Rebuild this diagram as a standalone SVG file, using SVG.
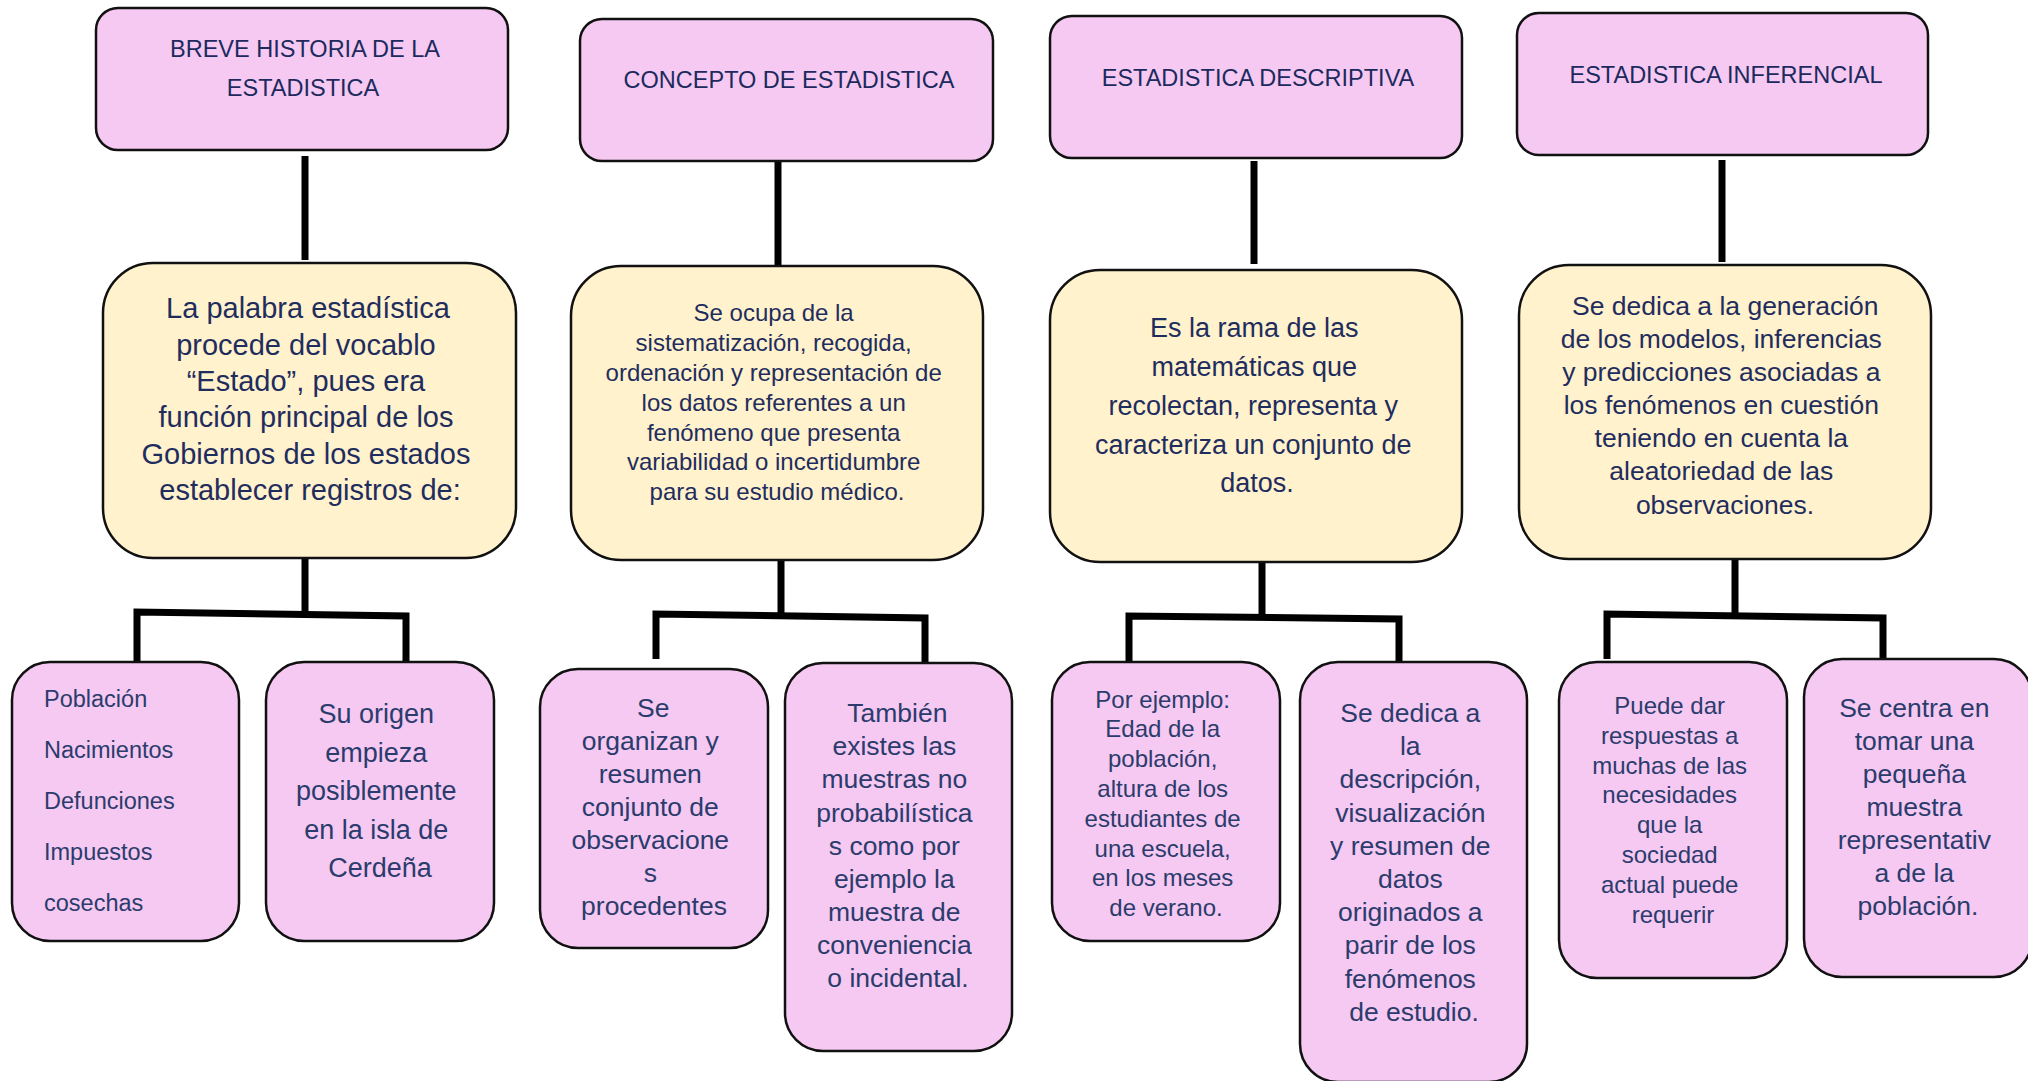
<svg xmlns="http://www.w3.org/2000/svg" width="2028" height="1081" viewBox="0 0 2028 1081">
<style>
.hd{fill:#f5c9f2;stroke:#111;stroke-width:2.5}
.yl{fill:#fff2cc;stroke:#111;stroke-width:2.5}
.pk{fill:#f5c9f2;stroke:#111;stroke-width:2.5}
.ln{fill:none;stroke:#000;stroke-width:7;stroke-linejoin:miter;stroke-linecap:butt}
text{font-family:"Liberation Sans",Arial,sans-serif;text-anchor:middle}
.ht{font-size:23.5px;fill:#1c2a5e}
.yt{fill:#1f2d5e}
.bt{fill:#2b3c6c}
</style>
<rect width="2028" height="1081" fill="#fff"/>

<g id="connectors">
<path class="ln" d="M305 156V260"/>
<path class="ln" d="M778 161V266"/>
<path class="ln" d="M1254 161V264"/>
<path class="ln" d="M1722 160V262"/>
<path class="ln" d="M305 557V614"/>
<path class="ln" d="M137 663V612L406 616V663"/>
<path class="ln" d="M781 560V616"/>
<path class="ln" d="M656 659V614L925 618V662"/>
<path class="ln" d="M1262 562V618"/>
<path class="ln" d="M1129 662V616L1399 619V662"/>
<path class="ln" d="M1735 558V617"/>
<path class="ln" d="M1607 659V614L1883 618V658"/>
</g>

<g id="h1"><rect class="hd" x="96" y="8" width="412" height="142" rx="22"/>
<text class="ht" x="305" y="56.5">BREVE HISTORIA DE LA</text>
<text class="ht" x="303" y="96">ESTADISTICA</text></g>
<g id="h2"><rect class="hd" x="580" y="19" width="413" height="142" rx="22"/>
<text class="ht" x="789" y="87.5">CONCEPTO DE ESTADISTICA</text></g>
<g id="h3"><rect class="hd" x="1050" y="16" width="412" height="142" rx="22"/>
<text class="ht" x="1258" y="85.5">ESTADISTICA DESCRIPTIVA</text></g>
<g id="h4"><rect class="hd" x="1517" y="13" width="411" height="142" rx="22"/>
<text class="ht" x="1726" y="82.5">ESTADISTICA INFERENCIAL</text></g>

<g id="y1"><rect class="yl" x="103" y="263" width="413" height="295" rx="50"/>
<text class="yt" font-size="29">
<tspan x="312" y="318">La palabra estadística</tspan>
<tspan x="310" y="355">procede del vocablo</tspan>
<tspan x="310" y="391">“Estado”, pues era</tspan>
<tspan x="310" y="427">función principal de los</tspan>
<tspan x="310" y="464">Gobiernos de los estados</tspan>
<tspan x="310" y="500">establecer registros de:</tspan>
</text></g>

<g id="y2"><rect class="yl" x="571" y="266" width="412" height="294" rx="50"/>
<text class="yt" font-size="24">
<tspan x="777" y="321">Se ocupa de la</tspan>
<tspan x="777" y="351">sistematización, recogida,</tspan>
<tspan x="777" y="381">ordenación y representación de</tspan>
<tspan x="777" y="411">los datos referentes a un</tspan>
<tspan x="777" y="441">fenómeno que presenta</tspan>
<tspan x="777" y="470">variabilidad o incertidumbre</tspan>
<tspan x="777" y="500">para su estudio médico.</tspan>
</text></g>

<g id="y3"><rect class="yl" x="1050" y="270" width="412" height="292" rx="50"/>
<text class="yt" font-size="27">
<tspan x="1258" y="337">Es la rama de las</tspan>
<tspan x="1258" y="376">matemáticas que</tspan>
<tspan x="1257" y="415">recolectan, representa y</tspan>
<tspan x="1257" y="454">caracteriza un conjunto de</tspan>
<tspan x="1257" y="492">datos.</tspan>
</text></g>

<g id="y4"><rect class="yl" x="1519" y="265" width="412" height="294" rx="50"/>
<text class="yt" font-size="26.5">
<tspan x="1729" y="314.5">Se dedica a la generación</tspan>
<tspan x="1725" y="347.5">de los modelos, inferencias</tspan>
<tspan x="1725" y="380.5">y predicciones asociadas a</tspan>
<tspan x="1725" y="413.5">los fenómenos en cuestión</tspan>
<tspan x="1725" y="447">teniendo en cuenta la</tspan>
<tspan x="1725" y="480">aleatoriedad de las</tspan>
<tspan x="1725" y="513.5">observaciones.</tspan>
</text></g>

<g id="b1"><rect class="pk" x="12" y="662" width="227" height="279" rx="38"/>
<text class="bt" font-size="23.5" style="text-anchor:start">
<tspan x="44" y="707">Población</tspan>
<tspan x="44" y="757.5">Nacimientos</tspan>
<tspan x="44" y="809">Defunciones</tspan>
<tspan x="44" y="859.5">Impuestos</tspan>
<tspan x="44" y="910.5">cosechas</tspan>
</text></g>

<g id="b2"><rect class="pk" x="266" y="662" width="228" height="279" rx="38"/>
<text class="bt" font-size="27">
<tspan x="380" y="723">Su origen</tspan>
<tspan x="380" y="761.5">empieza</tspan>
<tspan x="380" y="800">posiblemente</tspan>
<tspan x="380" y="838.5">en la isla de</tspan>
<tspan x="380" y="877">Cerdeña</tspan>
</text></g>

<g id="b3"><rect class="pk" x="540" y="669" width="228" height="279" rx="38"/>
<text class="bt" font-size="26.5">
<tspan x="657" y="716.5">Se</tspan>
<tspan x="654" y="750">organizan y</tspan>
<tspan x="654" y="783">resumen</tspan>
<tspan x="654" y="816">conjunto de</tspan>
<tspan x="654" y="849">observacione</tspan>
<tspan x="654" y="882">s</tspan>
<tspan x="654" y="915">procedentes</tspan>
</text></g>

<g id="b4"><rect class="pk" x="785" y="663" width="227" height="388" rx="38"/>
<text class="bt" font-size="26.5">
<tspan x="901" y="722">También</tspan>
<tspan x="898" y="755">existes las</tspan>
<tspan x="898" y="788">muestras no</tspan>
<tspan x="898" y="821.5">probabilística</tspan>
<tspan x="898" y="854.5">s como por</tspan>
<tspan x="898" y="888">ejemplo la</tspan>
<tspan x="898" y="921">muestra de</tspan>
<tspan x="898" y="954">conveniencia</tspan>
<tspan x="898" y="987">o incidental.</tspan>
</text></g>

<g id="b5"><rect class="pk" x="1052" y="662" width="228" height="279" rx="38"/>
<text class="bt" font-size="24">
<tspan x="1166" y="707.5">Por ejemplo:</tspan>
<tspan x="1166" y="737.3">Edad de la</tspan>
<tspan x="1166" y="767">población,</tspan>
<tspan x="1166" y="797">altura de los</tspan>
<tspan x="1166" y="826.7">estudiantes de</tspan>
<tspan x="1166" y="856.5">una escuela,</tspan>
<tspan x="1166" y="886.3">en los meses</tspan>
<tspan x="1166" y="916">de verano.</tspan>
</text></g>

<g id="b6"><rect class="pk" x="1300" y="662" width="227" height="420" rx="38"/>
<text class="bt" font-size="26.5">
<tspan x="1414" y="722">Se dedica a</tspan>
<tspan x="1414" y="755.2">la</tspan>
<tspan x="1414" y="788.4">descripción,</tspan>
<tspan x="1414" y="821.6">visualización</tspan>
<tspan x="1414" y="854.8">y resumen de</tspan>
<tspan x="1414" y="888">datos</tspan>
<tspan x="1414" y="921.2">originados a</tspan>
<tspan x="1414" y="954.4">parir de los</tspan>
<tspan x="1414" y="987.6">fenómenos</tspan>
<tspan x="1414" y="1020.8">de estudio.</tspan>
</text></g>

<g id="b7"><rect class="pk" x="1559" y="662" width="228" height="316" rx="38"/>
<text class="bt" font-size="24">
<tspan x="1673" y="714">Puede dar</tspan>
<tspan x="1673" y="743.8">respuestas a</tspan>
<tspan x="1673" y="773.6">muchas de las</tspan>
<tspan x="1673" y="803.4">necesidades</tspan>
<tspan x="1673" y="833.2">que la</tspan>
<tspan x="1673" y="863">sociedad</tspan>
<tspan x="1673" y="892.8">actual puede</tspan>
<tspan x="1673" y="922.6">requerir</tspan>
</text></g>

<g id="b8"><rect class="pk" x="1804" y="659" width="228" height="318" rx="38"/>
<text class="bt" font-size="26.5">
<tspan x="1918" y="716.5">Se centra en</tspan>
<tspan x="1918" y="749.5">tomar una</tspan>
<tspan x="1918" y="782.5">pequeña</tspan>
<tspan x="1918" y="815.5">muestra</tspan>
<tspan x="1918" y="848.5">representativ</tspan>
<tspan x="1918" y="881.5">a de la</tspan>
<tspan x="1918" y="914.5">población.</tspan>
</text></g>
</svg>
